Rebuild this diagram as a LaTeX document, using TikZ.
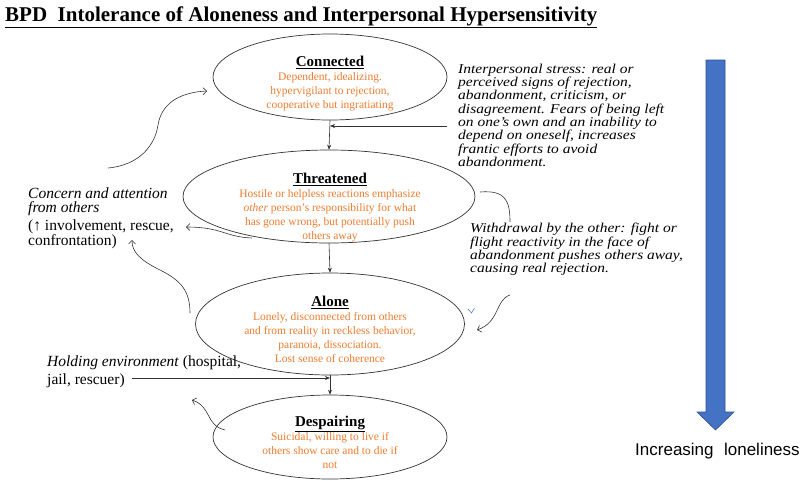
\documentclass[tikz,border=0pt]{standalone}
\usepackage{fontspec}
\usepackage{graphicx}
\setmainfont{Liberation Serif}
\setsansfont{Liberation Sans}
\usetikzlibrary{shapes.geometric,arrows.meta}
\definecolor{orng}{HTML}{ED7D31}
\definecolor{barblue}{HTML}{4472C4}
\definecolor{baredge}{HTML}{2F528F}
\definecolor{ln}{HTML}{333333}
\newcommand\hdtext[1]{{\color{black}\fontsize{15}{14}\selectfont\bfseries\underline{#1}}}
\newcommand\squish[1]{\scalebox{1}[0.87]{\fontsize{15.5}{15}\selectfont\itshape\begin{tabular}{@{}l@{}}#1\end{tabular}}}
\begin{document}
\begin{tikzpicture}[x=1pt,y=-1pt,
  stateell/.style={ellipse, draw=ln, line width=0.7pt, inner sep=0pt},
  stxt/.style={anchor=north, align=center, inner sep=0pt, font=\fontsize{11.5}{14}\selectfont, text=orng},
  conn/.style={draw=ln, line width=0.6pt},
  sharr/.style={-{Stealth[length=5pt,width=4pt]}},
  barb/.style={-{Straight Barb[length=3.5pt,width=7pt]}},
  note/.style={inner sep=0pt, align=left, anchor=north west}
]
\path[use as bounding box, fill=white] (0,0) rectangle (800,480);

% title
\node[anchor=base west, inner sep=0pt, font=\fontsize{21}{24}\selectfont\bfseries] (title) at (5,21)
  {\underline{BPD\ \ Intolerance of Aloneness and Interpersonal Hypersensitivity}};

% ellipses
\node[stateell, minimum width=234pt, minimum height=86pt] (e1) at (330,77) {};
\node[stateell, minimum width=292pt, minimum height=93pt] (e2) at (329,196.5) {};
\node[stateell, minimum width=269pt, minimum height=102pt] (e3) at (330,324) {};
\node[stateell, minimum width=234pt, minimum height=84pt] (e4) at (330,437) {};

% ellipse texts
\node[stxt] (t1) at (330,55.8) {\hdtext{Connected}\\Dependent, idealizing.\\hypervigilant to rejection,\\cooperative but ingratiating};
\node[stxt] (t2) at (330,172.8) {\hdtext{Threatened}\\Hostile or helpless reactions emphasize\\\textit{other} person’s responsibility for what\\has gone wrong, but potentially push\\others away};
\node[stxt] (t3) at (330,295.8) {\hdtext{Alone}\\Lonely, disconnected from others\\and from reality in reckless behavior,\\paranoia, dissociation.\\Lost sense of coherence};
\node[stxt] (t4) at (330,415.8) {\hdtext{Despairing}\\Suicidal, willing to live if\\others show care and to die if\\not};

% side notes
\node[note] (stress) at (458,63.6) {\squish{Interpersonal stress: real or\\perceived signs of rejection,\\abandonment, criticism, or\\disagreement. Fears of being left\\on one’s own and an inability to\\depend on oneself, increases\\frantic efforts to avoid\\abandonment.}};
\node[note] (withd) at (470,222.9) {\squish{Withdrawal by the other: fight or\\flight reactivity in the face of\\abandonment pushes others away,\\causing real rejection.}};
\node[note, font=\fontsize{15.5}{14}\selectfont] (concern) at (28,187.6) {\textit{Concern and attention}\\\textit{from others}\\[3pt](↑ involvement, rescue,\\confrontation)};
\node[note, font=\fontsize{15.5}{18}\selectfont] (hold) at (47,355.3) {\textit{Holding environment} (hospital,\\jail, rescuer)};

% blue arrow
\draw[fill=barblue, draw=baredge, line width=0.6pt] (706,60) -- (725,60) -- (725,412) -- (734,412) -- (715.5,430) -- (697,412) -- (706,412) -- cycle;
\node[anchor=base west, inner sep=0pt, font=\sffamily\fontsize{17}{19}\selectfont] (incr) at (635,455) {Increasing\hspace{10.5pt}loneliness};

% straight connectors
\draw[conn, sharr] (e1.south) -- (e2.north);
\coordinate (sIn) at (447,126);
\draw[conn, sharr] (sIn) -- (sIn -| e1.south);
\draw[conn, sharr] (e2.south) -- (e3.north);
\draw[conn, sharr] (e3.south) -- (e4.north);
\coordinate (hIn) at (132,378);
\draw[conn, sharr] (hIn) -- (hIn -| e3.south);

% curved connectors
\coordinate (a0) at (108,168); \coordinate (a1) at (207,91);
\draw[conn, barb] (a0) .. controls (140,165) and (155,145) .. (158,125) .. controls (162,100) and (185,92) .. (a1);
\coordinate (b0) at (252,238); \coordinate (b1) at (186,227);
\draw[conn, barb] (b0) .. controls (225,237) and (222,227) .. (b1);
\coordinate (c0) at (190,313); \coordinate (c1) at (132,240);
\draw[conn, barb] (c0) .. controls (190,290) and (180,280) .. (160,270) .. controls (140,260) and (132,252) .. (c1);
\coordinate (d0) at (225,430); \coordinate (d1) at (192,400);
\draw[conn, barb] (d0) .. controls (205,425) and (212,407) .. (d1);
\coordinate (f0) at (480,192); \coordinate (f1) at (510,222);
\draw[conn] (f0) .. controls (505,190) and (510,200) .. (f1);
\coordinate (g0) at (510,295); \coordinate (g1) at (477,330);
\draw[conn, barb] (g0) .. controls (495,300) and (500,322) .. (g1);

% small blue mark
\draw[barblue, line width=0.5pt] (468,309) -- (471.5,313) -- (474.5,308);
\end{tikzpicture}
\end{document}
